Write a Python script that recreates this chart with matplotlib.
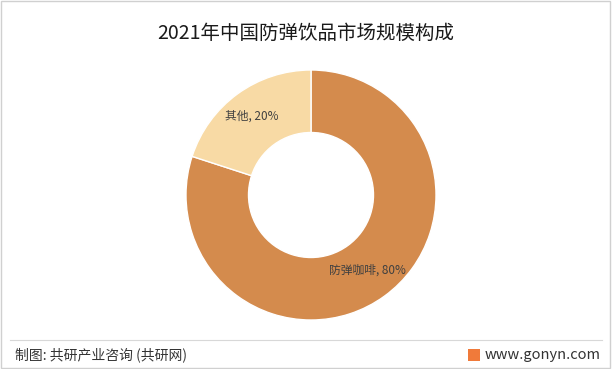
import matplotlib.pyplot as plt
from matplotlib.patches import Rectangle

plt.rcParams['font.family'] = ['Noto Sans CJK SC', 'DejaVu Sans']

categories = ['防弹咖啡', '其他']
shares = [80, 20]
colors = ['#D48B4D', '#F8DAA5']

fig = plt.figure(figsize=(6.12, 3.69), dpi=100)
fig.patch.set_facecolor('white')

# figure border
fig.patches.append(Rectangle((0.002, 0.003), 0.995, 0.994, transform=fig.transFigure,
                             fill=False, edgecolor='#D0D0D0', linewidth=1))

ax = fig.add_axes([(311 - 125) / 612, (174 - 125) / 369, 250 / 612, 250 / 369])
wedges, _ = ax.pie(shares, colors=colors, startangle=90, counterclock=False,
                   radius=1.0, wedgeprops=dict(width=0.5, edgecolor='white', linewidth=1))
ax.set_xlim(-1, 1)
ax.set_ylim(-1, 1)
ax.set_aspect('equal')
ax.axis('off')

# data labels
ax.text(0.45, -0.6, f'{categories[0]}, {shares[0]}%', ha='center', va='center',
        fontsize=8.5, color='#404040')
ax.text(-0.47, 0.63, f'{categories[1]}, {shares[1]}%', ha='center', va='center',
        fontsize=8.5, color='#404040')

fig.text(0.5, 1 - 33 / 369, '2021年中国防弹饮品市场规模构成', ha='center', va='center',
         fontsize=14, color='#1a1a1a')

# footer
fig.add_artist(plt.Line2D([10 / 612, 602 / 612], [1 - 340 / 369] * 2,
                          transform=fig.transFigure, color='#D8D8D8', linewidth=0.8))
fig.text(15 / 612, 1 - 355 / 369, '制图: 共研产业咨询 (共研网)', ha='left', va='center',
         fontsize=10, color='#333333')
fig.text(601 / 612, 1 - 355 / 369, 'www.gonyn.com', ha='right', va='center',
         fontsize=10.5, color='#333333')
fig.patches.append(Rectangle((468 / 612, 1 - 361 / 369), 12 / 612, 12 / 369,
                             transform=fig.transFigure, facecolor='#F07A3A', edgecolor='none'))

fig.savefig('out.png', dpi=100)
